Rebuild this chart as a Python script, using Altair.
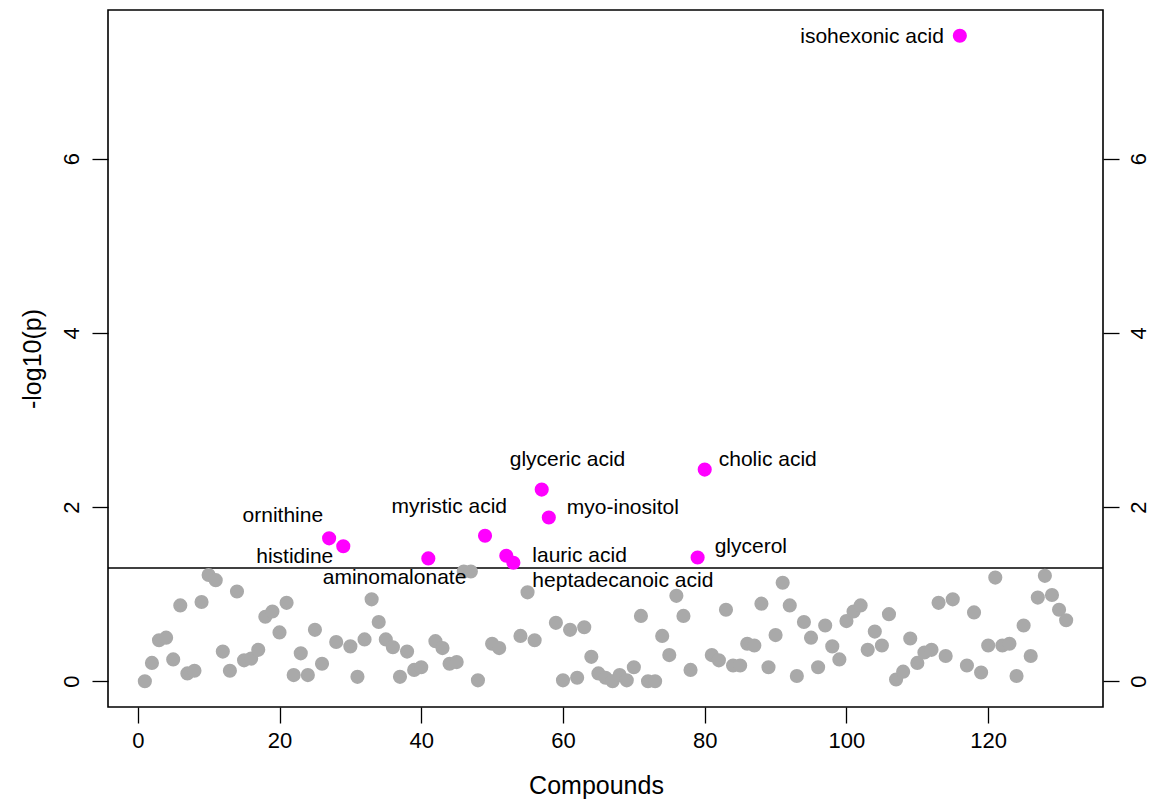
import altair as alt
import pandas as pd

# ---------------- data ----------------
compound_index = list(range(1, 132))
neg_log10_p = [
    0.00, 0.21, 0.47, 0.50, 0.25, 0.87, 0.09, 0.12, 0.91, 1.22,
    1.16, 0.34, 0.12, 1.03, 0.24, 0.26, 0.36, 0.74, 0.80, 0.56,
    0.90, 0.07, 0.32, 0.07, 0.59, 0.20, 1.64, 0.45, 1.55, 0.40,
    0.05, 0.48, 0.94, 0.68, 0.48, 0.39, 0.05, 0.34, 0.13, 0.16,
    1.41, 0.46, 0.38, 0.20, 0.22, 1.26, 1.26, 0.01, 1.67, 0.43,
    0.38, 1.44, 1.36, 0.52, 1.02, 0.47, 2.20, 1.88, 0.67, 0.01,
    0.59, 0.04, 0.62, 0.28, 0.09, 0.04, 0.00, 0.07, 0.01, 0.16,
    0.75, 0.00, 0.00, 0.52, 0.30, 0.98, 0.75, 0.13, 1.42, 2.43,
    0.30, 0.24, 0.82, 0.18, 0.18, 0.43, 0.41, 0.89, 0.16, 0.53,
    1.13, 0.87, 0.06, 0.68, 0.50, 0.16, 0.64, 0.40, 0.25, 0.69,
    0.80, 0.87, 0.36, 0.57, 0.41, 0.77, 0.02, 0.11, 0.49, 0.21,
    0.33, 0.36, 0.90, 0.29, 0.94, 7.41, 0.18, 0.79, 0.10, 0.41,
    1.19, 0.41, 0.43, 0.06, 0.64, 0.29, 0.96, 1.21, 0.99, 0.82,
    0.70,
]
label_index = [27, 29, 41, 49, 52, 53, 57, 58, 79, 80, 116]
label_names = ["ornithine", "histidine", "aminomalonate", "myristic acid",
               "lauric acid", "heptadecanoic acid", "glyceric acid",
               "myo-inositol", "glycerol", "cholic acid", "isohexonic acid"]
threshold = [1.30]
x_ticks = [0, 20, 40, 60, 80, 100, 120]
y_ticks = [0, 2, 4, 6]

# ---------------- style ----------------
FONT = "Liberation Sans"
W, H = 995, 697
GRAY = "#A9A9A9"
PINK = "#FF00FF"
# label placement: (align, dx, dy)
placement = {
    "ornithine": ("right", -6, -16),
    "histidine": ("right", -10, 17),
    "aminomalonate": ("right", 38, 26),
    "myristic acid": ("right", 22, -23),
    "lauric acid": ("left", 26, 6),
    "heptadecanoic acid": ("left", 19, 24),
    "glyceric acid": ("left", -32, -24),
    "myo-inositol": ("left", 18, -3),
    "glycerol": ("left", 17, -5),
    "cholic acid": ("left", 14, -4),
    "isohexonic acid": ("right", -16, 7),
}

df = pd.DataFrame({"idx": compound_index, "val": neg_log10_p})
df["group"] = ["sig" if i in label_index else "ns" for i in compound_index]
lab = df[df["idx"].isin(label_index)].copy()
lab["name"] = [label_names[label_index.index(i)] for i in lab["idx"]]
thr = pd.DataFrame({"t": threshold})

xscale = alt.Scale(domain=[-4.2, 136.2], nice=False, zero=False)
yscale = alt.Scale(domain=[-0.296, 7.706], nice=False, zero=False)

xaxis = alt.Axis(values=x_ticks, tickSize=16, tickColor="black", tickWidth=1.3,
                 domain=False, grid=False, labelFontSize=22, labelFont=FONT,
                 labelColor="black", labelPadding=7, labelBaseline="top",
                 title="Compounds", titleFontSize=25, titleFont=FONT,
                 titleFontWeight="normal", titleColor="black",
                 titleBaseline="alphabetic", titleY=86, titleX=488,
                 titleAlign="center", format="d", labelOverlap=False)
yaxis_left = alt.Axis(values=y_ticks, tickSize=16, tickColor="black", tickWidth=1.3,
                      domain=False, grid=False, labelFontSize=22, labelFont=FONT,
                      labelColor="black", labelAngle=270, labelAlign="center",
                      labelBaseline="alphabetic", labelPadding=14,
                      title="-log10(p)", titleFontSize=25, titleFont=FONT,
                      titleFontWeight="normal", titleColor="black",
                      titleAngle=270, titleAlign="center",
                      titleBaseline="alphabetic", titleX=-68, titleY=H / 2,
                      format="d", labelOverlap=False)
yaxis_right = alt.Axis(orient="right", values=y_ticks, tickSize=16, tickColor="black",
                       tickWidth=1.3, domain=False, grid=False, labelFontSize=22,
                       labelFont=FONT, labelColor="black", labelAngle=270,
                       labelAlign="center", labelBaseline="top", labelPadding=9,
                       title=None, format="d", labelOverlap=False)

points = alt.Chart(df).mark_circle(size=200, opacity=1).encode(
    x=alt.X("idx:Q", scale=xscale, axis=xaxis),
    y=alt.Y("val:Q", scale=yscale, axis=yaxis_left),
    color=alt.Color("group:N", scale=alt.Scale(domain=["ns", "sig"], range=[GRAY, PINK]),
                    legend=None),
)

rule = alt.Chart(thr).mark_rule(color="black", strokeWidth=1.6).encode(
    y=alt.Y("t:Q", scale=yscale, axis=yaxis_right),
)

layers = [rule, points]
for name in label_names:
    align, dx, dy = placement[name]
    layers.append(
        alt.Chart(lab).transform_filter(alt.datum.name == name).mark_text(
            align=align, baseline="alphabetic", dx=dx, dy=dy, fontSize=21,
            font=FONT, color="black"
        ).encode(
            x=alt.X("idx:Q", scale=xscale, axis=None),
            y=alt.Y("val:Q", scale=yscale, axis=None),
            text="name:N",
        )
    )

chart = alt.layer(*layers).resolve_axis(x="independent", y="independent").properties(
    width=W, height=H,
    autosize=alt.AutoSizeParams(type="none"),
    padding={"left": 108, "top": 10, "right": 49, "bottom": 92},
    background="white",
).configure_view(stroke="black", strokeWidth=1.6)

chart.save("out.html", embed_options={"renderer": "svg", "actions": False})
